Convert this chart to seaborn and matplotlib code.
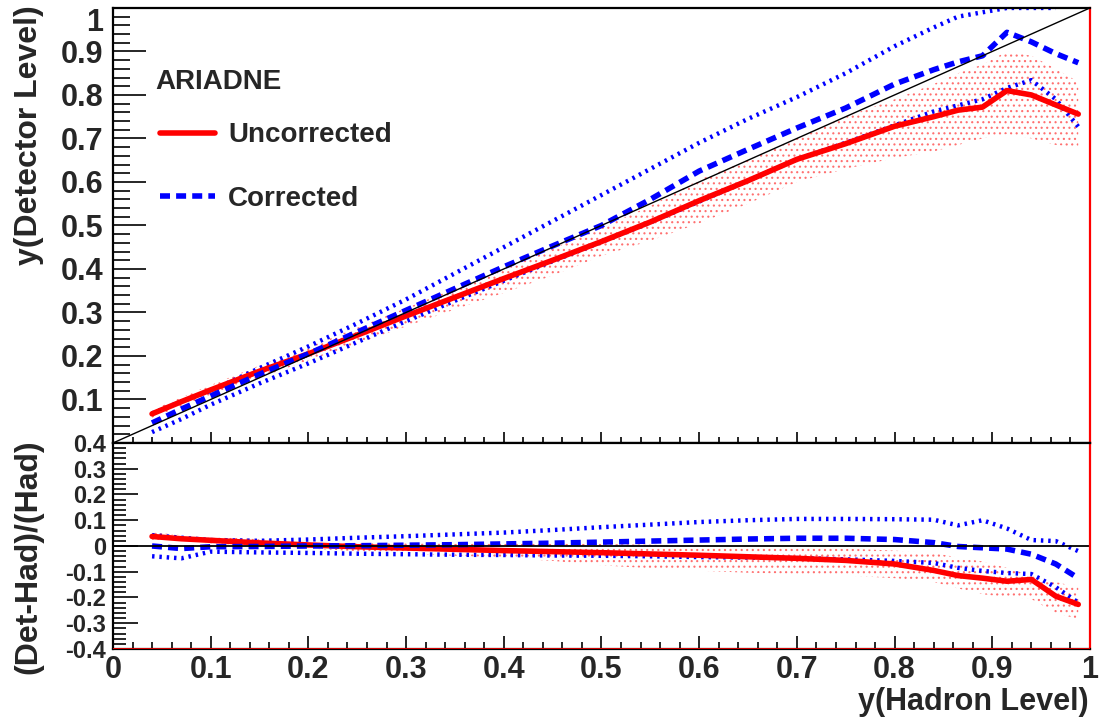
import numpy as np
import pandas as pd
import matplotlib
matplotlib.use("Agg")
import matplotlib.pyplot as plt
import seaborn as sns
from matplotlib.ticker import MultipleLocator, FuncFormatter

# y(Hadron Level) bin centres
x_had = [0.04, 0.07, 0.1, 0.15, 0.2, 0.25, 0.3, 0.35, 0.4, 0.45, 0.5, 0.55,
         0.6, 0.65, 0.7, 0.75, 0.8, 0.84, 0.865, 0.89, 0.915, 0.94, 0.965, 0.988]

# top panel: y(Detector Level)
det_uncorr = [0.067, 0.095, 0.122, 0.165, 0.205, 0.248, 0.292, 0.335, 0.378, 0.42, 0.463, 0.508,
              0.557, 0.603, 0.652, 0.688, 0.728, 0.75, 0.765, 0.772, 0.81, 0.80, 0.777, 0.756]
det_uncorr_hi = [0.076, 0.105, 0.133, 0.178, 0.22, 0.265, 0.31, 0.355, 0.40, 0.447, 0.495, 0.545,
                 0.605, 0.65, 0.70, 0.75, 0.79, 0.825, 0.85, 0.87, 0.90, 0.89, 0.86, 0.83]
det_uncorr_lo = [0.058, 0.085, 0.11, 0.15, 0.19, 0.228, 0.268, 0.307, 0.345, 0.385, 0.43, 0.465,
                 0.505, 0.55, 0.60, 0.63, 0.655, 0.67, 0.685, 0.70, 0.71, 0.70, 0.685, 0.68]
det_corr = [0.046, 0.078, 0.108, 0.158, 0.205, 0.255, 0.305, 0.355, 0.405, 0.453, 0.50, 0.56,
            0.625, 0.675, 0.724, 0.77, 0.825, 0.858, 0.876, 0.89, 0.944, 0.922, 0.895, 0.874]
det_corr_hi = [0.068, 0.095, 0.12, 0.172, 0.222, 0.275, 0.33, 0.39, 0.45, 0.51, 0.57, 0.63,
               0.69, 0.745, 0.795, 0.85, 0.912, 0.955, 0.98, 0.99, 1.0, 1.0, 1.0, np.nan]
det_corr_lo = [0.025, 0.055, 0.088, 0.137, 0.183, 0.232, 0.28, 0.327, 0.373, 0.418, 0.462, 0.507,
               0.555, 0.603, 0.652, 0.69, 0.73, 0.762, 0.776, 0.79, 0.816, 0.834, 0.79, 0.727]

# bottom panel: (Det-Had)/(Had)
rat_uncorr = [0.037, 0.028, 0.022, 0.012, 0.004, -0.003, -0.008, -0.013, -0.018, -0.022, -0.026, -0.031,
              -0.036, -0.042, -0.048, -0.056, -0.07, -0.095, -0.115, -0.125, -0.137, -0.13, -0.195, -0.227]
rat_uncorr_hi = [0.052, 0.043, 0.036, 0.026, 0.018, 0.013, 0.01, 0.008, 0.008, 0.008, 0.008, 0.005,
                 0.0, -0.003, -0.006, -0.01, -0.018, -0.027, -0.045, -0.06, -0.085, -0.115, -0.14, -0.16]
rat_uncorr_lo = [0.024, 0.016, 0.01, 0.0, -0.01, -0.02, -0.03, -0.038, -0.046, -0.058, -0.075, -0.087,
                 -0.096, -0.104, -0.109, -0.115, -0.125, -0.14, -0.165, -0.187, -0.2, -0.206, -0.26, -0.284]
rat_corr = [0.0, -0.01, -0.003, -0.002, 0.0, 0.001, 0.003, 0.005, 0.008, 0.011, 0.015, 0.019,
            0.023, 0.027, 0.03, 0.03, 0.025, 0.013, -0.002, -0.007, -0.012, -0.032, -0.07, -0.125]
rat_corr_hi = [0.042, 0.032, 0.023, 0.02, 0.025, 0.032, 0.038, 0.045, 0.052, 0.062, 0.073, 0.083,
               0.093, 0.1, 0.105, 0.105, 0.104, 0.102, 0.08, 0.10, 0.068, 0.023, 0.019, -0.02]
rat_corr_lo = [-0.04, -0.048, -0.022, -0.025, -0.027, -0.03, -0.032, -0.034, -0.035, -0.037, -0.038, -0.04,
               -0.043, -0.045, -0.047, -0.052, -0.058, -0.066, -0.085, -0.097, -0.105, -0.109, -0.16, -0.22]

sns.set_style("ticks")
plt.rcParams["font.family"] = ["Liberation Sans", "DejaVu Sans"]
plt.rcParams["font.weight"] = "bold"
plt.rcParams["hatch.linewidth"] = 0.8

df = pd.DataFrame({"x": x_had,
                   "det_uncorr": det_uncorr, "det_corr": det_corr,
                   "det_corr_hi": det_corr_hi, "det_corr_lo": det_corr_lo,
                   "rat_uncorr": rat_uncorr, "rat_corr": rat_corr,
                   "rat_corr_hi": rat_corr_hi, "rat_corr_lo": rat_corr_lo})

fig = plt.figure(figsize=(10.99, 7.21), dpi=100)
ax1 = fig.add_axes([0.1028, 0.3856, 0.889, 0.6034])
ax2 = fig.add_axes([0.1028, 0.0999, 0.889, 0.2857])

red = "#ff0000"
blue = "#0000ff"
dash = (0, (1.8, 1.1))
dot = (0, (0.55, 1.1))

def draw(ax, prefix, lo, hi):
    ax.fill_between(x_had, lo, hi, facecolor="none", edgecolor="#ff7070",
                    hatch="...", linewidth=0)
    sns.lineplot(data=df, x="x", y=prefix + "corr_hi", ax=ax, color=blue, lw=3.2,
                 linestyle=dot, legend=False)
    sns.lineplot(data=df, x="x", y=prefix + "corr_lo", ax=ax, color=blue, lw=3.2,
                 linestyle=dot, legend=False)
    sns.lineplot(data=df, x="x", y=prefix + "uncorr", ax=ax, color=red, lw=4,
                 label="Uncorrected", legend=False)
    sns.lineplot(data=df, x="x", y=prefix + "corr", ax=ax, color=blue, lw=4,
                 linestyle=dash, label="Corrected", legend=False)

draw(ax1, "det_", det_uncorr_lo, det_uncorr_hi)
draw(ax2, "rat_", rat_uncorr_lo, rat_uncorr_hi)

ax1.plot([0, 1], [0, 1], color="black", lw=1)
ax2.axhline(0, color="black", lw=1.3)

ax1.set_xlim(0, 1)
ax1.set_ylim(0, 1)
ax2.set_xlim(0, 1)
ax2.set_ylim(-0.4, 0.4)

fmt = FuncFormatter(lambda v, p: "%g" % (round(v, 2) + 0.0))
for ax in (ax1, ax2):
    ax.set_xlabel("")
    ax.set_ylabel("")
    ax.xaxis.set_major_locator(MultipleLocator(0.1))
    ax.xaxis.set_minor_locator(MultipleLocator(0.02))
    ax.yaxis.set_minor_locator(MultipleLocator(0.02))
    ax.xaxis.set_major_formatter(fmt)
    for s in ax.spines.values():
        s.set_linewidth(1.6)
        s.set_color("black")
    ax.spines["right"].set_color(red)
    ax.axhline(ax.get_ylim()[0], color=red, lw=1.2, zorder=5)

ax1.set_yticks(np.round(np.arange(0, 1.01, 0.1), 2))
ax2.set_yticks(np.round(np.arange(-0.4, 0.41, 0.1), 2))
ax1.yaxis.set_major_formatter(FuncFormatter(lambda v, p: "" if abs(v) < 1e-9 else "%g" % round(v, 2)))
ax2.yaxis.set_major_formatter(fmt)

ax1.tick_params(axis="y", which="major", direction="in", length=24, width=1.4, labelsize=22, pad=7)
ax1.tick_params(axis="y", which="minor", direction="in", length=12, width=1.4)
ax1.tick_params(axis="x", which="major", direction="in", length=8, width=1.4, labelbottom=False)
ax1.tick_params(axis="x", which="minor", direction="in", length=4.5, width=1.4)

ax2.tick_params(axis="y", which="major", direction="in", length=18, width=1.4, labelsize=17, pad=5)
ax2.tick_params(axis="y", which="minor", direction="in", length=9, width=1.4)
ax2.tick_params(axis="x", which="major", direction="in", length=9.5, width=1.4, labelsize=22, pad=4)
ax2.tick_params(axis="x", which="minor", direction="in", length=5, width=1.4)

# keep the top "1" inside the canvas, as ROOT does
ax1.yaxis.get_major_ticks()[-1].label1.set_verticalalignment("top")

for lab in ax1.get_yticklabels() + ax2.get_yticklabels() + ax2.get_xticklabels():
    lab.set_fontweight("bold")

fig.text(0.026, 0.993, "y(Detector Level)", rotation=90, ha="center", va="top",
         fontsize=23, fontweight="bold")
fig.text(0.026, 0.39, "(Det-Had)/(Had)", rotation=90, ha="center", va="top",
         fontsize=23, fontweight="bold")
fig.text(0.991, 0.006, "y(Hadron Level)", ha="right", va="bottom",
         fontsize=22, fontweight="bold")

ax1.text(0.043, 0.83, "ARIADNE", transform=ax1.transAxes, ha="left", va="center",
         fontsize=20, fontweight="bold")
handles, labels = ax1.get_legend_handles_labels()
leg = ax1.legend(handles, labels, loc="center left", bbox_to_anchor=(0.048, 0.634),
                 frameon=False, fontsize=20, handlelength=2.0, handletextpad=0.45,
                 labelspacing=1.35, borderpad=0, borderaxespad=0)
for t in leg.get_texts():
    t.set_fontweight("bold")

fig.savefig("out.png", dpi=100)
